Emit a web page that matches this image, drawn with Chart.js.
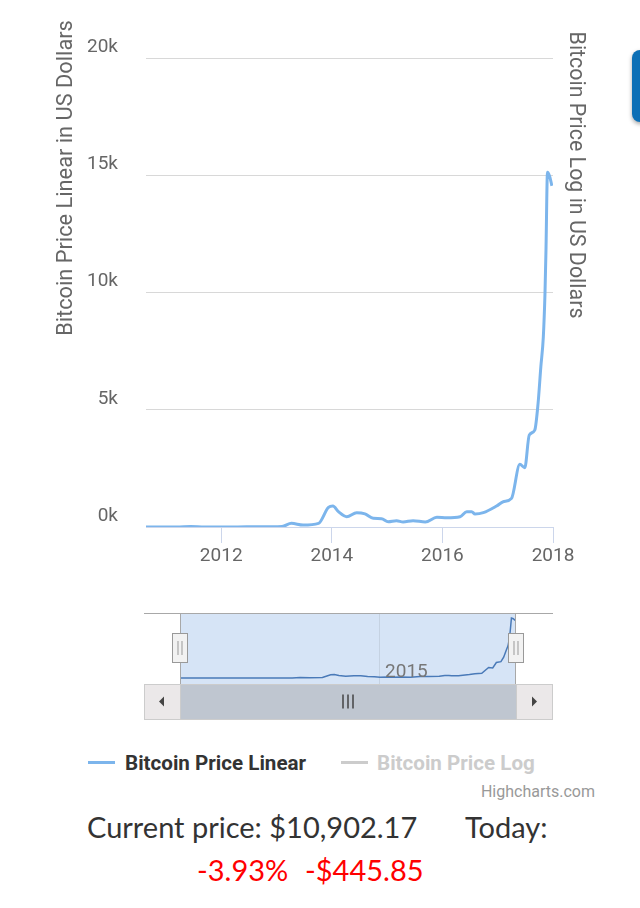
<!DOCTYPE html>
<html>
<head>
<meta charset="utf-8">
<script src="https://cdn.jsdelivr.net/npm/chart.js@4.4.1/dist/chart.umd.min.js"></script>
<style>
body{margin:0;background:#fff;width:640px;height:908px;overflow:hidden;position:relative;font-family:Roboto,sans-serif}
#mainBox{position:absolute;left:0;top:0;width:640px;height:590px}
#navBox{position:absolute;left:0;top:600px;width:640px;height:130px}
.abs{position:absolute;white-space:nowrap}
.sym{position:absolute;height:3px;width:27px}
.leg{font:bold 20.6px Roboto;line-height:24px}
.price{font:29px Lato;line-height:34.8px;color:#333}
#side{position:absolute;left:632px;top:50px;width:30px;height:72px;border-radius:8px;background:#0c6fb6;box-shadow:0 2px 4px rgba(0,0,0,.35)}
</style>
</head>
<body>
<div id="mainBox"><canvas id="main"></canvas></div>
<div id="navBox"><canvas id="nav"></canvas></div>
<div id="side"></div>
<div id="legend"></div>
<div class="abs" style="right:45px;top:781.5px;font:16px Roboto;line-height:20px;color:#999">Highcharts.com</div>
<div class="abs price" style="left:87px;top:809.7px">Current price: $10,902.17</div>
<div class="abs price" style="left:465px;top:809.7px">Today:</div>
<div class="abs price" style="left:197px;top:853px;color:#ff0000">-3.93%</div>
<div class="abs price" style="left:305px;top:853px;color:#ff0000">-$445.85</div>
<script>
// values (year as decimal, price in USD)
var years = [2010.64, 2010.9, 2011.2, 2011.45, 2011.7, 2012.0, 2012.3, 2012.6, 2012.9, 2013.1,
  2013.27, 2013.48, 2013.76, 2013.94, 2014.02, 2014.12, 2014.27, 2014.45, 2014.6, 2014.75,
  2014.9, 2015.02, 2015.17, 2015.29, 2015.47, 2015.69, 2015.9, 2016.08, 2016.32, 2016.44,
  2016.53, 2016.59, 2016.74, 2016.98, 2017.10, 2017.25, 2017.40, 2017.49, 2017.57, 2017.67,
  2017.73, 2017.78, 2017.825, 2017.855, 2017.873, 2017.90, 2017.94, 2017.98];
var prices = [0.07, 0.3, 1, 25, 5, 5, 5, 11, 12, 20,
  157, 85, 157, 840, 895, 652, 440, 610, 560, 370,
  355, 226, 270, 213, 270, 213, 413, 397, 440, 652,
  652, 554, 610, 895, 1078, 1222, 2671, 2526, 3919, 4130,
  5270, 6830, 8107, 9955, 11800, 15130, 14950, 14550];
var yearTicks = [2012, 2014, 2016, 2018];
var priceTicks = [0, 5000, 10000, 15000, 20000];
var navYearTicks = [2015];
var seriesNames = ["Bitcoin Price Linear", "Bitcoin Price Log"];
var seriesColors = ["#7cb5ec", "#cccccc"];
var leftTitle = "Bitcoin Price Linear in US Dollars";
var rightTitle = "Bitcoin Price Log in US Dollars";

function points(){
  var p = [];
  for (var i = 0; i < years.length; i++) p.push({x: years[i], y: prices[i]});
  return p;
}

// legend (html)
var lg = document.getElementById('legend');
var legX = [[88, 125], [341, 377]];
for (var i = 0; i < seriesNames.length; i++) {
  var s = document.createElement('div');
  s.className = 'sym';
  s.style.left = legX[i][0] + 'px'; s.style.top = '760.5px';
  s.style.background = seriesColors[i];
  lg.appendChild(s);
  var t = document.createElement('div');
  t.className = 'abs leg';
  t.style.left = legX[i][1] + 'px'; t.style.top = '750.5px';
  t.style.color = i == 0 ? '#333333' : '#cccccc';
  t.textContent = seriesNames[i];
  lg.appendChild(t);
}

var axisTitles = {
  id: 'axisTitles',
  afterDraw: function(chart){
    var c = chart.ctx;
    c.save();
    c.fillStyle = '#666666';
    c.font = '21.8px Roboto';
    c.textAlign = 'center';
    c.translate(72, 178);
    c.rotate(-Math.PI / 2);
    c.fillText(leftTitle, 0, 0);
    c.restore();
    c.save();
    c.fillStyle = '#666666';
    c.font = '21.4px Roboto';
    c.textAlign = 'center';
    c.translate(570, 175);
    c.rotate(Math.PI / 2);
    c.fillText(rightTitle, 0, 0);
    c.restore();
  }
};

new Chart(document.getElementById('main'), {
  type: 'line',
  data: {datasets: [{label: seriesNames[0], data: points(), borderColor: seriesColors[0], borderWidth: 3,
    pointRadius: 0, fill: false, cubicInterpolationMode: 'monotone'}]},
  options: {
    responsive: true, maintainAspectRatio: false, animation: false,
    layout: {padding: {left: 0, right: 87, top: 58, bottom: 23}},
    plugins: {legend: {display: false}, tooltip: {enabled: false}},
    scales: {
      x: {type: 'linear', min: 2010.64, max: 2018,
        afterBuildTicks: function(s){ s.ticks = yearTicks.map(function(v){ return {value: v}; }); },
        afterFit: function(s){ s.height = 40; },
        grid: {drawOnChartArea: false, tickLength: 16, color: '#ccd6eb'},
        border: {color: '#ccd6eb'},
        ticks: {color: '#666666', font: {family: 'Roboto', size: 19}, padding: 2, maxRotation: 0,
          callback: function(v){ return String(v); }}},
      y: {min: 0, max: 20000,
        afterBuildTicks: function(s){ s.ticks = priceTicks.map(function(v){ return {value: v}; }); },
        afterFit: function(s){ s.width = 146; },
        grid: {drawTicks: false, color: function(c){ return c.tick && c.tick.value === 0 ? 'rgba(0,0,0,0)' : '#d8d8d8'; }},
        border: {display: false},
        ticks: {padding: 28, labelOffset: -11, color: '#666666', font: {family: 'Roboto', size: 19},
          callback: function(v){ return (v / 1000) + 'k'; }}}
    }
  },
  plugins: [axisTitles]
});

var navDecor = {
  id: 'navDecor',
  beforeDraw: function(chart){
    var c = chart.ctx, a = chart.chartArea;
    c.save();
    c.fillStyle = 'rgb(214,228,246)';
    c.fillRect(a.left, a.top, a.right - a.left, a.bottom - a.top);
    c.restore();
  },
  afterDraw: function(chart){
    var c = chart.ctx, a = chart.chartArea, xs = chart.scales.x;
    var bw = 36, L = a.left - bw, R = a.right + bw;
    c.save();
    // label
    c.fillStyle = '#777777';
    c.font = '19px Roboto';
    c.textAlign = 'left';
    navYearTicks.forEach(function(v){ c.fillText(String(v), xs.getPixelForValue(v) + 6, 76.7); });
    // outline
    c.strokeStyle = '#a8a8a8';
    c.lineWidth = 1;
    c.beginPath();
    c.moveTo(L, a.top + 0.5); c.lineTo(R + 1, a.top + 0.5);
    c.moveTo(a.left + 0.5, a.top); c.lineTo(a.left + 0.5, a.bottom);
    c.moveTo(a.right - 0.5, a.top); c.lineTo(a.right - 0.5, a.bottom);
    c.stroke();
    // scrollbar
    var sy = a.bottom, sh = 35;
    c.strokeStyle = '#cccccc';
    c.fillStyle = '#ebe8e9';
    c.fillRect(L, sy, bw, sh); c.strokeRect(L + 0.5, sy + 0.5, bw, sh);
    c.fillRect(a.right, sy, bw, sh); c.strokeRect(a.right + 0.5, sy + 0.5, bw, sh);
    c.fillStyle = '#bfc6d0';
    c.fillRect(a.left, sy, a.right - a.left, sh); c.strokeRect(a.left + 0.5, sy + 0.5, a.right - a.left, sh);
    // arrows
    c.fillStyle = '#444444';
    var my = sy + sh / 2;
    c.beginPath(); c.moveTo(L + bw / 2 - 3, my); c.lineTo(L + bw / 2 + 2, my - 5); c.lineTo(L + bw / 2 + 2, my + 5); c.fill();
    c.beginPath(); c.moveTo(a.right + bw / 2 + 3, my); c.lineTo(a.right + bw / 2 - 2, my - 5); c.lineTo(a.right + bw / 2 - 2, my + 5); c.fill();
    // grip
    var gx = (a.left + a.right) / 2;
    c.strokeStyle = '#444444';
    c.lineWidth = 1.5;
    c.beginPath();
    [-5, 0, 5].forEach(function(d){ c.moveTo(gx + d, my - 7); c.lineTo(gx + d, my + 7); });
    c.stroke();
    // handles
    [a.left, a.right].forEach(function(hx){
      c.fillStyle = '#f2f2f2';
      c.strokeStyle = '#999999';
      c.lineWidth = 1;
      c.fillRect(hx - 7.5, a.top + 20, 15, 29);
      c.strokeRect(hx - 7.5, a.top + 20.5, 15, 29);
      c.beginPath();
      c.moveTo(hx - 2, a.top + 28); c.lineTo(hx - 2, a.top + 42);
      c.moveTo(hx + 2, a.top + 28); c.lineTo(hx + 2, a.top + 42);
      c.stroke();
    });
    c.restore();
  }
};

new Chart(document.getElementById('nav'), {
  type: 'line',
  data: {datasets: [{data: points(), borderColor: '#4a7ab8', borderWidth: 1.5, pointRadius: 0, fill: false}]},
  options: {
    responsive: true, maintainAspectRatio: false, animation: false,
    layout: {padding: {left: 180, right: 124, top: 13, bottom: 46}},
    plugins: {legend: {display: false}, tooltip: {enabled: false}},
    scales: {
      x: {type: 'linear', min: 2010.64, max: 2018,
        afterBuildTicks: function(s){ s.ticks = navYearTicks.map(function(v){ return {value: v}; }); },
        afterFit: function(s){ s.height = 0; },
        ticks: {display: false},
        grid: {drawTicks: false, color: 'rgba(0,0,0,0.08)'},
        border: {display: false}},
      y: {display: false, min: -1500, max: 16400}
    }
  },
  plugins: [navDecor]
});
</script>
</body>
</html>
